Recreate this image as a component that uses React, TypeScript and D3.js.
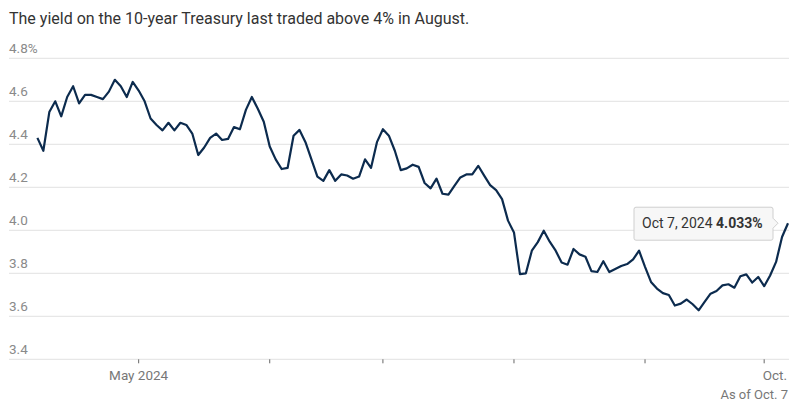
import React from 'react';
import * as d3 from 'd3';

// trading days per month (bond market holidays removed)
const aprDays = [8, 9, 10, 11, 12, 15, 16, 17, 18, 19, 22, 23, 24, 25, 26, 29, 30];
const mayDays = [1, 2, 3, 6, 7, 8, 9, 10, 13, 14, 15, 16, 17, 20, 21, 22, 23, 24, 28, 29, 30, 31];
const junDays = [3, 4, 5, 6, 7, 10, 11, 12, 13, 14, 17, 18, 20, 21, 24, 25, 26, 27, 28];
const julDays = [1, 2, 3, 5, 8, 9, 10, 11, 12, 15, 16, 17, 18, 19, 22, 23, 24, 25, 26, 29, 30, 31];
const augDays = [1, 2, 5, 6, 7, 8, 9, 12, 13, 14, 15, 16, 19, 20, 21, 22, 23, 26, 27, 28, 29, 30];
const sepDays = [3, 4, 5, 6, 9, 10, 11, 12, 13, 16, 17, 18, 19, 20, 23, 24, 25, 26, 27, 30];
const octDays = [1, 2, 3, 4, 7];

// 10-year yield, %
const yields = [
  // Apr
  4.43, 4.37, 4.55, 4.6, 4.53, 4.62, 4.67, 4.59, 4.63, 4.63, 4.62, 4.61, 4.645, 4.7, 4.67, 4.62, 4.69,
  // May
  4.65, 4.6, 4.52, 4.49, 4.465, 4.5, 4.465, 4.5, 4.49, 4.45, 4.35, 4.385, 4.43, 4.45, 4.42, 4.425,
  4.48, 4.47, 4.56, 4.62, 4.565, 4.505,
  // Jun
  4.39, 4.33, 4.285, 4.29, 4.44, 4.467, 4.41, 4.33, 4.25, 4.23, 4.28, 4.23, 4.26, 4.255, 4.24, 4.25,
  4.33, 4.29, 4.41,
  // Jul
  4.47, 4.44, 4.37, 4.28, 4.288, 4.305, 4.295, 4.22, 4.195, 4.24, 4.17, 4.166, 4.207, 4.246, 4.26,
  4.26, 4.3, 4.254, 4.21, 4.187, 4.145, 4.045,
  // Aug
  3.99, 3.796, 3.8, 3.905, 3.945, 3.998, 3.947, 3.905, 3.85, 3.84, 3.913, 3.888, 3.877, 3.81, 3.806,
  3.856, 3.806, 3.82, 3.834, 3.843, 3.865, 3.905,
  // Sep
  3.83, 3.76, 3.729, 3.708, 3.699, 3.65, 3.659, 3.678, 3.656, 3.628, 3.667, 3.705, 3.718, 3.744,
  3.749, 3.733, 3.786, 3.795, 3.757, 3.783,
  // Oct
  3.74, 3.79, 3.853, 3.969, 4.033,
];

const yTicks = [3.4, 3.6, 3.8, 4.0, 4.2, 4.4, 4.6, 4.8];
const monthTicks = ['2024-05-01', '2024-06-03', '2024-07-01', '2024-08-01', '2024-09-03', '2024-10-01'];
const monthLabels = ['May 2024', '', '', '', '', 'Oct.'];

const title = 'The yield on the 10-year Treasury last traded above 4% in August.';
const note = 'As of Oct. 7';

const pad = (n: number) => String(n).padStart(2, '0');
const months: [number, number[]][] = [
  [4, aprDays], [5, mayDays], [6, junDays], [7, julDays], [8, augDays], [9, sepDays], [10, octDays],
];
const dates: string[] = months.flatMap(([m, days]) => days.map((d) => `2024-${pad(m)}-${pad(d)}`));
const data = dates.map((d, i) => ({ date: d, value: yields[i] }));

const W = 805;
const H = 406;
const FONT = 'Roboto, "Noto Sans", sans-serif';

export default function App() {
  const x = d3.scalePoint<string>().domain(dates).range([37.4, 788]);
  const y = d3.scaleLinear().domain([3.4, 4.8]).range([359.3, 58.3]);
  const gridLeft = 9;
  const gridRight = 789;

  const line = d3
    .line<{ date: string; value: number }>()
    .x((d) => x(d.date) as number)
    .y((d) => y(d.value));

  const last = data[data.length - 1];
  const lx = x(last.date) as number;
  const ly = y(last.value);
  const fmtDate = d3.timeFormat('%b %-d, %Y');
  const lastDate = d3.timeParse('%Y-%m-%d')(last.date) as Date;

  // tooltip box, to the left of the last point
  const boxW = 139;
  const boxH = 33;
  const boxR = lx - 15;
  const boxL = boxR - boxW;
  const boxT = ly - 16;

  return (
    <svg
      width={W}
      height={H}
      style={{ position: 'absolute', left: 0, top: 0, background: '#fff' }}
      fontFamily={FONT}
    >
      <text x={9} y={23.5} fontSize={16} fill="#333">
        {title}
      </text>

      {yTicks.map((t) => (
        <g key={t}>
          <line x1={gridLeft} x2={gridRight} y1={y(t)} y2={y(t)} stroke="#e2e2e2" strokeWidth={1} />
          <text x={gridLeft} y={y(t) - 5} fontSize={13.5} fill="#8a8a8a">
            {t === 4.8 ? '4.8%' : t.toFixed(1)}
          </text>
        </g>
      ))}

      {monthTicks.map((m, i) => {
        const tx = x(m) as number;
        return (
          <g key={m}>
            <line x1={tx} x2={tx} y1={y(3.4)} y2={y(3.4) + 4} stroke="#666" strokeWidth={1} />
            {monthLabels[i] && (
              <text
                x={i === monthTicks.length - 1 ? gridRight - 2 : tx}
                y={380}
                fontSize={13.5}
                fill="#777"
                textAnchor={i === monthTicks.length - 1 ? 'end' : 'middle'}
              >
                {monthLabels[i]}
              </text>
            )}
          </g>
        );
      })}

      <path d={line(data) ?? ''} fill="none" stroke="#0c2b4e" strokeWidth={2.2} strokeLinejoin="round" />

      <g>
        <path
          d={`M${boxL + 2},${boxT} H${boxR - 2} Q${boxR},${boxT} ${boxR},${boxT + 2} V${ly - 5} L${boxR + 5},${ly} L${boxR},${ly + 5} V${boxT + boxH - 2} Q${boxR},${boxT + boxH} ${boxR - 2},${boxT + boxH} H${boxL + 2} Q${boxL},${boxT + boxH} ${boxL},${boxT + boxH - 2} V${boxT + 2} Q${boxL},${boxT} ${boxL + 2},${boxT} Z`}
          fill="#f7f7f7"
          stroke="#cfcfcf"
          strokeWidth={1}
        />
        <text x={boxL + 8} y={ly + 5} fontSize={14} fill="#333">
          {fmtDate(lastDate)}{' '}
          <tspan fontWeight="bold">{last.value.toFixed(3)}%</tspan>
        </text>
      </g>

      <text x={gridRight - 1} y={399} fontSize={13} fill="#777" textAnchor="end">
        {note}
      </text>
    </svg>
  );
}
